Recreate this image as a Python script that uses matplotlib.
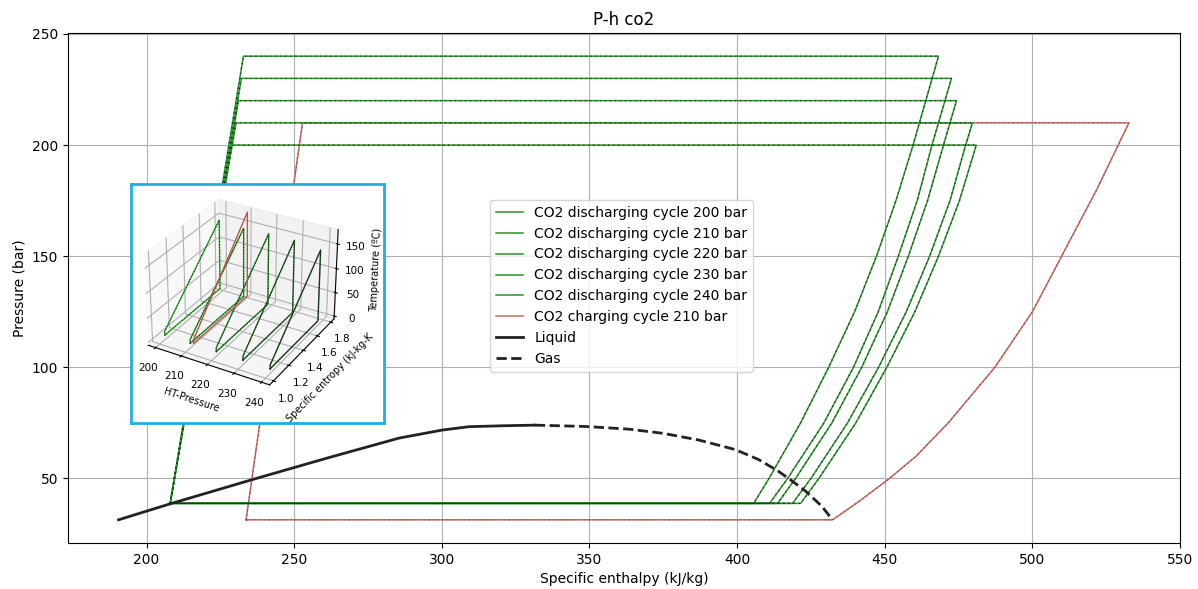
import numpy as np
import matplotlib
matplotlib.use("Agg")
import matplotlib.pyplot as plt
from mpl_toolkits.mplot3d import Axes3D  # noqa

# ---------------- data ----------------
dis_pressures = [200, 210, 220, 230, 240]
dis_P_low = 38.8
dis_h_pump_start = 208.0
dis_h_top_left = [228.8, 230.3, 231.1, 232.1, 232.8]
dis_h_top_right = [481.0, 479.7, 474.3, 472.6, 468.2]
# expansion curves: enthalpy read at these pressures
dis_exp_P = [
    [175, 150, 125, 100, 75, 50],
    [200, 175, 150, 125, 100, 75, 50],
    [200, 175, 150, 125, 100, 75, 50],
    [200, 175, 150, 125, 100, 75, 50],
    [200, 175, 150, 125, 100, 75, 50],
]
dis_exp_h = [
    [475.3, 468.2, 460.2, 450.7, 440.2, 427.7],
    [477.4, 472.1, 465.2, 457.3, 447.9, 437.4, 425.0],
    [469.9, 464.5, 458.0, 450.9, 442.2, 432.1, 419.8],
    [466.0, 461.0, 454.6, 447.8, 439.4, 429.4, 417.1],
    [459.6, 453.8, 447.2, 439.8, 431.0, 421.5, 410.8],
]
dis_h_bottom = [421.5, 418.8, 413.7, 411.0, 405.6]

ch_P_high = 210.0
ch_P_low = 31.4
ch_h_bottom_left = 233.7
ch_h_top_left = 252.8
ch_h_top_right = 532.7
ch_exp_P = [180, 150, 125, 100, 75, 60, 50, 40, 35.5]
ch_exp_h = [521.8, 509.9, 500.0, 487.3, 471.5, 460.6, 451.6, 441.6, 436.8]
ch_h_bottom_right = 432.3

liq_h = [190.5, 208.0, 237.1, 262.0, 285.6, 300.2, 309.2, 320.0, 331.5]
liq_P = [31.4, 38.6, 50.0, 59.5, 68.2, 71.8, 73.3, 73.7, 74.0]
gas_h = [331.5, 348.6, 363.3, 375.0, 387.0, 399.4, 407.3, 413.7, 418.0, 423.1, 428.7, 432.3]
gas_P = [74.0, 73.4, 72.2, 70.3, 67.3, 63.0, 58.5, 53.5, 49.5, 44.4, 37.5, 31.4]

# inset (T-s cycles vs high pressure)
ins_P = [200, 210, 220, 230, 240]
ins_s_low = [1.06, 1.06, 1.06, 1.06, 1.06]
ins_s_high = [1.76, 1.75, 1.74, 1.73, 1.72]
ins_T_low = [4, 4, 4, 4, 4]
ins_T_pump = [12, 12, 12, 12, 12]
ins_T_high = [150, 148, 152, 154, 150]
ins_ch_P = 210
ins_ch_s = [1.10, 1.10, 1.80, 1.80, 1.10]
ins_ch_T = [-2, 6, 175, -2, -2]

labels_dis = [f"CO2 discharging cycle {p} bar" for p in dis_pressures]
label_ch = "CO2 charging cycle 210 bar"

# ---------------- figure ----------------
fig = plt.figure(figsize=(11.98, 5.89), dpi=100)
ax = fig.add_axes([68 / 1198, 1 - 543 / 589, (1180 - 68) / 1198, (543 - 33) / 589])

green = "#2a922a"
dot_dark = "#123812"
red = "#c06a60"
dot_red = "#9a3a36"

for i, p in enumerate(dis_pressures):
    h = [dis_h_pump_start, dis_h_top_left[i], dis_h_top_right[i]] + dis_exp_h[i] + [dis_h_bottom[i], dis_h_pump_start]
    P = [dis_P_low, p, p] + dis_exp_P[i] + [dis_P_low, dis_P_low]
    ax.plot(h, P, color=green, lw=1.1, label=labels_dis[i], zorder=3)
    ax.plot(h, P, color=dot_dark, lw=0.9, ls=(0, (1, 3)), zorder=3.1)

h = [ch_h_bottom_left, ch_h_top_left, ch_h_top_right] + ch_exp_h + [ch_h_bottom_right, ch_h_bottom_left]
P = [ch_P_low, ch_P_high, ch_P_high] + ch_exp_P + [ch_P_low, ch_P_low]
ax.plot(h, P, color=red, lw=1.1, label=label_ch, zorder=2.9)
ax.plot(h, P, color=dot_red, lw=0.8, ls=(0, (1, 3)), zorder=2.95)

ax.plot(liq_h, liq_P, color="#222222", lw=2, label="Liquid", zorder=4)
ax.plot(gas_h, gas_P, color="#222222", lw=2, ls="--", label="Gas", zorder=4)

ax.grid(True, color="#b0b0b0", lw=0.8)
ax.set_axisbelow(True)
ax.set_xticks([200, 250, 300, 350, 400, 450, 500, 550])
ax.set_yticks([50, 100, 150, 200, 250])
ax.set_xlabel("Specific enthalpy (kJ/kg)")
ax.set_ylabel("Pressure (bar)")
ax.set_title("P-h co2")
ax.legend(loc="upper left", bbox_to_anchor=(0.3795, 0.6725), borderaxespad=0, fontsize=10)

# ---------------- inset box + 3D plot ----------------
box = fig.add_axes([131 / 1198, 1 - 423 / 589, 253 / 1198, 239 / 589], zorder=5)
box.set_xticks([])
box.set_yticks([])
box.set_facecolor("white")
for sp in box.spines.values():
    sp.set_edgecolor("#1eb0e4")
    sp.set_linewidth(2)

ax3 = fig.add_axes([124 / 1198, 1 - 398.5 / 589, 232 / 1198, 216 / 589], projection="3d", zorder=6)
ax3.patch.set_alpha(0)
ins_colors = ["#2fae2f", "#2a9a2a", "#277c27", "#235f23", "#1e461e"]
for i, p in enumerate(ins_P):
    s = [ins_s_low[i], ins_s_low[i], ins_s_high[i], ins_s_high[i], ins_s_low[i]]
    T = [ins_T_low[i], ins_T_pump[i], ins_T_high[i], ins_T_low[i], ins_T_low[i]]
    x = [p] * len(s)
    ax3.plot(x, s, T, color=ins_colors[i], lw=1.0)
    ax3.plot(x, s, T, color="#0c200c", lw=0.7, ls=(0, (1, 2)))
ax3.plot([ins_ch_P] * len(ins_ch_s), ins_ch_s, ins_ch_T, color="#b5554d", lw=1.0)

ax3.set_xticks([200, 210, 220, 230, 240])
ax3.set_yticks([1.0, 1.2, 1.4, 1.6, 1.8])
ax3.set_zticks([0, 50, 100, 150])
ax3.set_ylim(0.95, 1.85)
ax3.tick_params(labelsize=7.5, pad=0)
ax3.set_xlabel("HT-Pressure", fontsize=7, labelpad=-3)
ax3.set_ylabel("Specific entropy (kJ-kg-K", fontsize=7, labelpad=-3)
ax3.set_zlabel("Temperature (ºC)", fontsize=7, labelpad=-3)
try:
    ax3.zaxis.set_ticks_position("upper")
    ax3.zaxis.set_label_position("upper")
except Exception:
    pass

fig.savefig("out.png", dpi=100)
